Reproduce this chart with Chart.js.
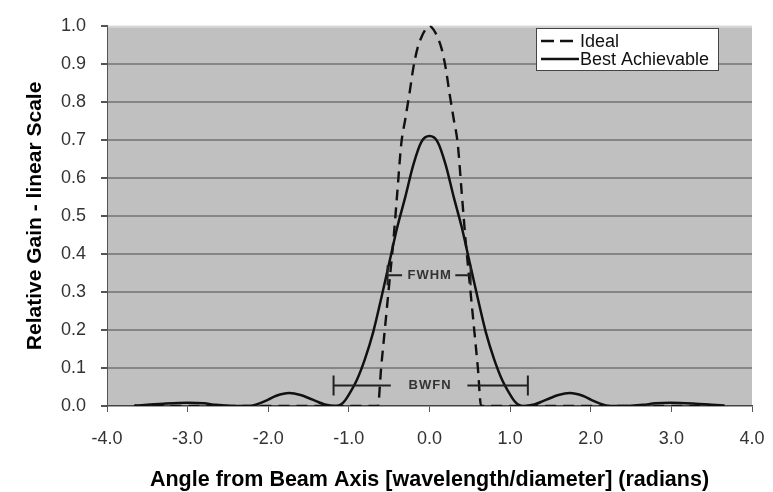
<!DOCTYPE html>
<html lang="en">
<head>
    <meta charset="UTF-8">
    <title>Beam Gain Pattern</title>
    <script src="https://cdn.jsdelivr.net/npm/chart.js"></script>
    <style>
        html, body {
            margin: 0;
            padding: 0;
            background: #fff;
        }
        .chart-container {
            width: 773px;
            height: 492px;
            position: relative;
        }
    </style>
</head>
<body>
    <div class="chart-container">
        <canvas id="beam-chart"></canvas>
    </div>

    <script>
        // Ideal pattern (dashed)
        const idealAngle = [-3.66, -0.64, -0.6, -0.55, -0.5, -0.45, -0.4, -0.35, -0.3, -0.25, -0.2, -0.15, -0.1, -0.05, 0,
                            0.05, 0.1, 0.15, 0.2, 0.25, 0.3, 0.35, 0.4, 0.45, 0.5, 0.55, 0.6, 0.64, 3.66];
        const idealGain = [0, 0, 0.1, 0.21, 0.32, 0.43, 0.56, 0.69, 0.755, 0.82, 0.89, 0.94, 0.97, 0.99, 1.0,
                           0.99, 0.97, 0.94, 0.89, 0.82, 0.755, 0.69, 0.56, 0.43, 0.32, 0.21, 0.1, 0, 0];

        // Best achievable pattern (solid)
        const bestAngle = [-3.66, -3.5, -3.3, -3.0, -2.8, -2.65, -2.5, -2.4, -2.26, -2.2, -2.1, -2.0, -1.9, -1.74, -1.6, -1.5, -1.4, -1.3, -1.17,
                           -1.1, -1.05, -1.0, -0.9, -0.8, -0.7, -0.6, -0.5, -0.4, -0.3, -0.2, -0.1, 0,
                           0.1, 0.2, 0.3, 0.4, 0.5, 0.6, 0.7, 0.8, 0.9, 1.0, 1.05, 1.1,
                           1.17, 1.3, 1.4, 1.5, 1.6, 1.74, 1.9, 2.0, 2.1, 2.2, 2.26, 2.4, 2.5, 2.65, 2.8, 3.0, 3.3, 3.5, 3.66];
        const bestGain = [0.001, 0.003, 0.006, 0.0085, 0.007, 0.003, 0.0005, 0, 0, 0.001, 0.0075, 0.017, 0.027, 0.034, 0.029, 0.021, 0.012, 0.004, 0,
                          0.004, 0.014, 0.03, 0.069, 0.124, 0.193, 0.282, 0.376, 0.47, 0.55, 0.635, 0.695, 0.71,
                          0.695, 0.635, 0.55, 0.47, 0.376, 0.282, 0.193, 0.124, 0.069, 0.03, 0.014, 0.004,
                          0, 0.004, 0.012, 0.021, 0.029, 0.034, 0.027, 0.017, 0.0075, 0.001, 0, 0, 0.0005, 0.003, 0.007, 0.0085, 0.006, 0.003, 0.001];

        // Beam width markers: [left end, gap start, gap end, right end] and level
        const fwhmSpan = [-0.52, -0.34, 0.32, 0.51];
        const fwhmLevel = 0.344;
        const bwfnSpan = [-1.19, -0.48, 0.47, 1.22];
        const bwfnLevel = 0.054;

        const FONT = '"Liberation Sans", Arial, sans-serif';

        const toPoints = (xs, ys) => xs.map((x, i) => ({ x: x, y: ys[i] }));

        const plotBackground = {
            id: 'plotBackground',
            beforeDraw(chart) {
                const { ctx, chartArea: a } = chart;
                ctx.save();
                ctx.fillStyle = '#c0c0c0';
                ctx.fillRect(a.left, a.top, a.right - a.left, a.bottom - a.top);
                ctx.fillStyle = '#d6d6d6';
                ctx.fillRect(a.left, a.top, a.right - a.left, 2);
                ctx.restore();
            }
        };

        function drawMarker(chart, span, level, text) {
            const ctx = chart.ctx;
            const xs = chart.scales.x, ys = chart.scales.y;
            const y = ys.getPixelForValue(level);
            const p = span.map(v => xs.getPixelForValue(v));
            ctx.save();
            ctx.strokeStyle = '#222';
            ctx.lineWidth = 2;
            ctx.beginPath();
            ctx.moveTo(p[0], y); ctx.lineTo(p[1], y);
            ctx.moveTo(p[2], y); ctx.lineTo(p[3], y);
            ctx.moveTo(p[0], y - 10); ctx.lineTo(p[0], y + 10);
            ctx.moveTo(p[3], y - 10); ctx.lineTo(p[3], y + 10);
            ctx.stroke();
            ctx.fillStyle = '#333';
            ctx.font = 'bold 13px ' + FONT;
            ctx.letterSpacing = '1px';
            ctx.textAlign = 'center';
            ctx.textBaseline = 'middle';
            ctx.fillText(text, (p[1] + p[2]) / 2 + 1, y);
            ctx.restore();
        }

        const annotations = {
            id: 'annotations',
            afterDatasetsDraw(chart) {
                drawMarker(chart, fwhmSpan, fwhmLevel, 'FWHM');
                drawMarker(chart, bwfnSpan, bwfnLevel, 'BWFN');

                // legend box inside the plot
                const ctx = chart.ctx;
                const bx = 536, by = 28, bw = 182, bh = 42;
                ctx.save();
                ctx.fillStyle = '#fff';
                ctx.fillRect(bx, by, bw, bh);
                ctx.strokeStyle = '#444';
                ctx.lineWidth = 1;
                ctx.strokeRect(bx + 0.5, by + 0.5, bw, bh);
                chart.data.datasets.forEach((ds, i) => {
                    const ly = by + 13 + i * 18;
                    ctx.beginPath();
                    ctx.setLineDash(ds.borderDash ? [13, 6] : []);
                    ctx.strokeStyle = ds.borderColor;
                    ctx.lineWidth = ds.borderWidth;
                    ctx.moveTo(bx + 5, ly);
                    ctx.lineTo(bx + 43, ly);
                    ctx.stroke();
                    ctx.setLineDash([]);
                    ctx.fillStyle = '#111';
                    ctx.font = '18px ' + FONT;
                    ctx.textAlign = 'left';
                    ctx.textBaseline = 'middle';
                    ctx.fillText(ds.label, bx + 44, ly + 1);
                });
                ctx.restore();
            }
        };

        const ctx = document.getElementById('beam-chart').getContext('2d');
        new Chart(ctx, {
            type: 'line',
            data: {
                datasets: [{
                    label: 'Ideal',
                    data: toPoints(idealAngle, idealGain),
                    borderColor: '#111',
                    borderWidth: 2.4,
                    borderDash: [11, 7],
                    pointRadius: 0,
                    cubicInterpolationMode: 'monotone',
                    fill: false
                }, {
                    label: 'Best Achievable',
                    data: toPoints(bestAngle, bestGain),
                    borderColor: '#111',
                    borderWidth: 2.5,
                    pointRadius: 0,
                    cubicInterpolationMode: 'monotone',
                    fill: false
                }]
            },
            options: {
                responsive: true,
                maintainAspectRatio: false,
                animation: false,
                layout: {
                    padding: { left: 0, right: 21, top: 16, bottom: 0 }
                },
                plugins: {
                    legend: { display: false },
                    tooltip: { enabled: false }
                },
                scales: {
                    x: {
                        type: 'linear',
                        min: -4,
                        max: 4,
                        afterFit(scale) {
                            scale.height = 86;
                            scale.paddingLeft = 0;
                            scale.paddingRight = 0;
                        },
                        ticks: {
                            stepSize: 1,
                            padding: 16,
                            color: '#333',
                            font: { family: FONT, size: 18 },
                            maxRotation: 0,
                            callback: v => v.toFixed(1)
                        },
                        grid: {
                            drawOnChartArea: false,
                            drawTicks: true,
                            tickLength: 6,
                            color: '#555'
                        },
                        border: { display: true, color: '#444', width: 1.5 },
                        title: {
                            display: true,
                            text: 'Angle from Beam Axis [wavelength/diameter] (radians)',
                            color: '#000',
                            font: { family: FONT, size: 21.5, weight: 'bold', lineHeight: 1 },
                            padding: { top: 0, bottom: 1 }
                        }
                    },
                    y: {
                        min: 0,
                        max: 1,
                        afterFit(scale) { scale.width = 107; },
                        ticks: {
                            stepSize: 0.1,
                            padding: 15,
                            color: '#333',
                            font: { family: FONT, size: 18 },
                            callback: v => v.toFixed(1)
                        },
                        grid: {
                            drawTicks: true,
                            tickLength: 6,
                            tickColor: '#555',
                            lineWidth: 2,
                            color: c => (c.tick && c.tick.value > 0.05 && c.tick.value < 0.95) ? '#858585' : 'rgba(0,0,0,0)'
                        },
                        border: { display: true, color: '#555', width: 1 },
                        title: {
                            display: true,
                            text: 'Relative Gain - linear Scale',
                            color: '#000',
                            font: { family: FONT, size: 21, weight: 'bold', lineHeight: 1 },
                            padding: { top: 25, bottom: 0 }
                        }
                    }
                }
            },
            plugins: [plotBackground, annotations]
        });
    </script>
</body>
</html>
